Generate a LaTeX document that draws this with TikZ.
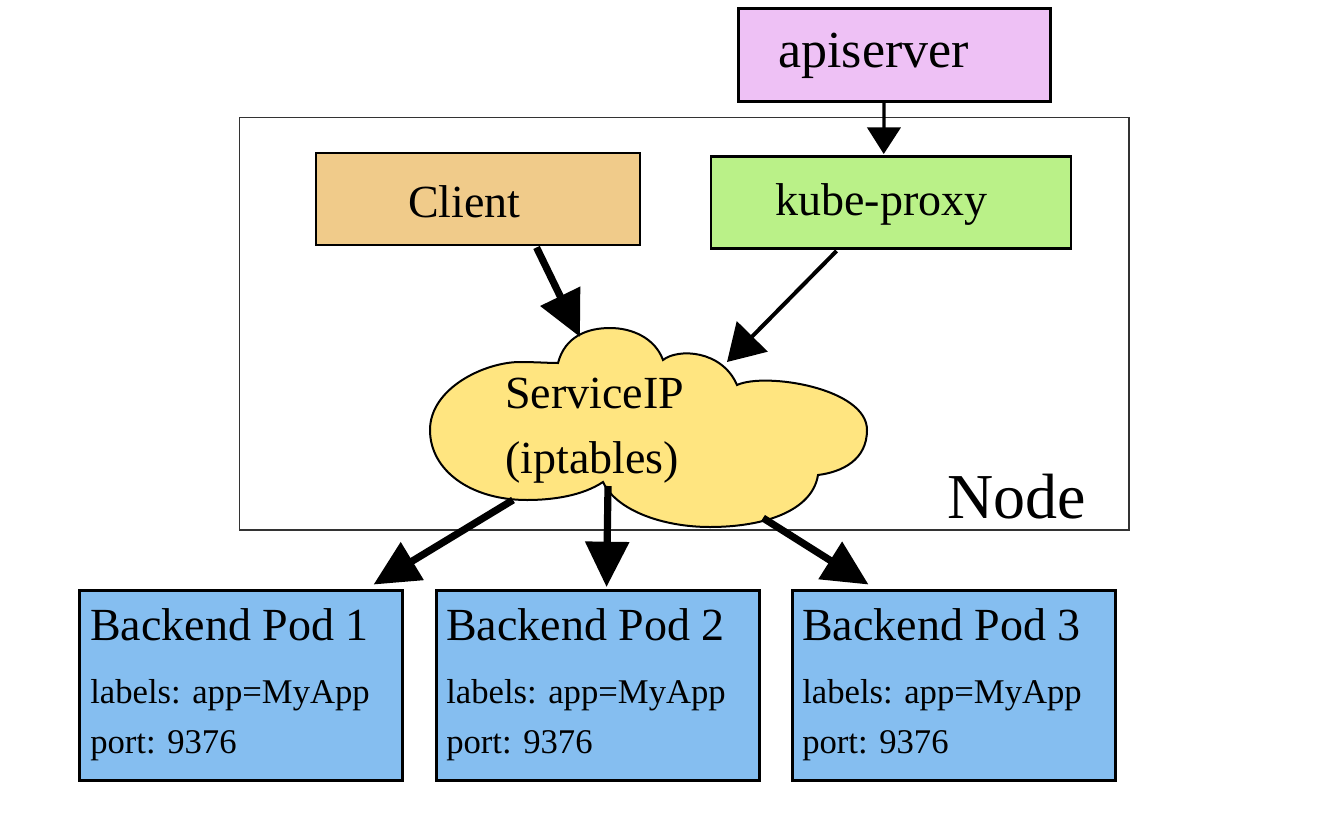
\documentclass[tikz,border=0pt]{standalone}
\usepackage{fontspec}
\setmainfont{Liberation Serif}
\usetikzlibrary{arrows.meta,calc}
\definecolor{apic}{HTML}{EEC1F5}
\definecolor{clientc}{HTML}{F0CB8A}
\definecolor{kubec}{HTML}{BAF188}
\definecolor{cloudc}{HTML}{FFE580}
\definecolor{podc}{HTML}{85BEF0}
\definecolor{framec}{HTML}{333333}
\begin{document}
\begin{tikzpicture}[x=0.75pt,y=-0.75pt,
  rectbox/.style={draw=black,line width=2.2pt,inner sep=0pt,rectangle},
  txt/.style={anchor=base west,inner sep=0pt,text=black},
  bigfont/.style={font=\fontsize{34.5}{40}\selectfont},
  smallfont/.style={font=\fontsize{26}{30}\selectfont},
  thickarrow/.style={line width=5.4pt,-{Triangle[length=34pt,width=32pt]}},
  midarrow/.style={line width=3pt,-{Triangle[length=27pt,width=32pt]}},
  thinarrow/.style={line width=2.4pt,-{Triangle[length=20pt,width=25pt]}}]
\useasboundingbox (0,0) rectangle (1333,817);
\fill[white] (0,0) rectangle (1333,817);

% Node frame
\node[draw=framec,line width=1pt,inner sep=0pt,minimum width=667.1pt,minimum height=309.4pt] (frame) at (684.25,323.75) {};
\node[txt,font=\fontsize{48}{56}\selectfont] (nodelbl) at (947,518) {Node};

% Boxes
\node[rectbox,fill=apic,minimum width=234pt,minimum height=69.75pt] (api) at (894.5,55) {};
\node[txt,font=\fontsize{39}{46}\selectfont] (apitxt) at (778,68) {apiserver};
\node[rectbox,fill=clientc,minimum width=243pt,minimum height=69pt] (client) at (478,199) {};
\node[txt,bigfont] (clienttxt) at (408,217) {Client};
\node[rectbox,fill=kubec,minimum width=270pt,minimum height=69pt] (kube) at (891,202.5) {};
\node[txt,bigfont] (kubetxt) at (775,215) {kube-proxy};

% Cloud
\draw[fill=cloudc,line width=1.5pt]
  (558,363) .. controls (565,336) and (588,328) .. (610,328)
  .. controls (632,328) and (655,338) .. (663,360)
  .. controls (678,348) and (722,350) .. (737,385)
  .. controls (765,372) and (867,388) .. (867,430)
  .. controls (867,460) and (842,472) .. (818,475)
  .. controls (812,512) and (762,527) .. (710,527)
  .. controls (662,527) and (616,510) .. (603,482)
  .. controls (582,496) and (552,500) .. (527,500)
  .. controls (470,500) and (430,470) .. (430,430)
  .. controls (430,388) and (485,362) .. (520,362)
  .. controls (535,362) and (548,363) .. cycle;
\node[txt,bigfont] (svc1) at (505,408) {ServiceIP};
\node[txt,bigfont] (svc2) at (505,473) {(iptables)};
\coordinate (cin1) at (580,337);
\coordinate (cin2) at (727,362);
\coordinate (cout1) at (513,500);
\coordinate (cout2) at (608,486);
\coordinate (cout3) at (763,518);

% Pods
\node[rectbox,fill=podc,minimum width=242.25pt,minimum height=142.5pt] (pod1) at (241,685.5) {};
\node[rectbox,fill=podc,minimum width=242.25pt,minimum height=142.5pt] (pod2) at (598,685.5) {};
\node[rectbox,fill=podc,minimum width=242.25pt,minimum height=142.5pt] (pod3) at (954,685.5) {};
\foreach \p/\x in {1/90,2/446,3/802}{
  \node[txt,font=\fontsize{34.5}{40}\selectfont] (podt\p) at (\x,640) {Backend Pod \p};
  \node[txt,smallfont] (podl\p) at (\x,703) {labels: app=MyApp};
  \node[txt,smallfont] (podp\p) at (\x,753) {port: 9376};
}

% Arrows
\draw[thinarrow] ($(api.south west)+(147,0)$) -- ($(kube.north west)+(174.2,-1)$);
\draw[thickarrow] ($(client.south west)+(222,1)$) -- (cin1);
\draw[midarrow] ($(kube.south west)+(127,1)$) -- (cin2);
\draw[thickarrow] (cout1) -- ($(pod1.north west)+(295.5,-4.5)$);
\draw[thickarrow] (cout2) -- ($(pod2.north west)+(171.5,-2)$);
\draw[thickarrow] (cout3) -- ($(pod3.north west)+(77.5,-4.5)$);
\end{tikzpicture}
\end{document}
